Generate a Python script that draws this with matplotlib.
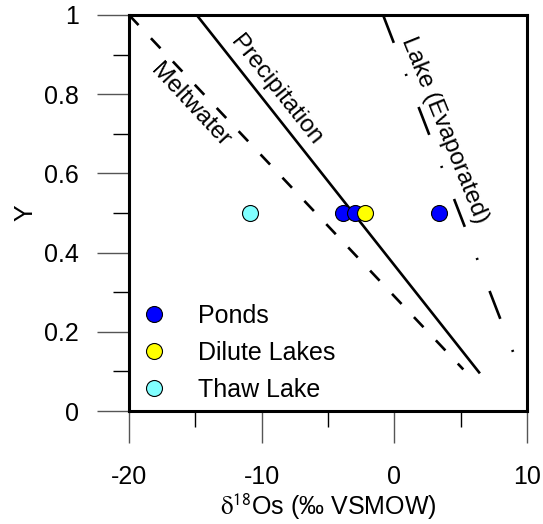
import matplotlib
matplotlib.use('Agg')
import matplotlib.pyplot as plt
from matplotlib.ticker import MultipleLocator

plt.rcParams['font.family'] = ['Liberation Sans', 'DejaVu Sans']
plt.rcParams['mathtext.fontset'] = 'stix'
plt.rcParams['lines.scale_dashes'] = False

# data
pond_x = [-3.9, -3.0, 3.4]
pond_y = [0.5, 0.5, 0.5]
dilute_x = [-2.2]
dilute_y = [0.5]
thaw_x = [-10.9]
thaw_y = [0.5]

# reference lines (endpoints)
precip_x = [-14.9, 6.45]
precip_y = [1.0, 0.095]
melt_x = [-20.0, 5.2]
melt_y = [1.0, 0.105]
lake_x = [-0.85, 9.0]
lake_y = [1.0, 0.145]

fig = plt.figure(figsize=(5.43, 5.24), dpi=100)
ax = fig.add_axes([0.2376, 0.2156, 0.7329, 0.7558])

ax.plot(precip_x, precip_y, color='black', lw=1.9, solid_capstyle='butt')
ax.plot(melt_x, melt_y, color='black', lw=1.9, dashes=(10, 13), dash_capstyle='butt')
ax.plot(lake_x, lake_y, color='black', lw=1.9, dashes=(21.5, 24, 1.5, 24), dash_capstyle='butt')

ms = 11.5
ax.plot(pond_x, pond_y, 'o', ms=ms, mfc='#0000ff', mec='black', mew=0.8, label='Ponds')
ax.plot(dilute_x, dilute_y, 'o', ms=ms, mfc='#ffff00', mec='black', mew=0.8, label='Dilute Lakes')
ax.plot(thaw_x, thaw_y, 'o', ms=ms, mfc='#80ffff', mec='black', mew=0.8, label='Thaw Lake')

# line labels
ax.text(-8.95, 0.81, 'Precipitation', rotation=-51.5, fontsize=17.5,
        ha='center', va='center', rotation_mode='anchor')
ax.text(-15.4, 0.773, 'Meltwater', rotation=-47, fontsize=17.5,
        ha='center', va='center', rotation_mode='anchor')
ax.text(3.8, 0.71, 'Lake (Evaporated)', rotation=-68, fontsize=17.5,
        ha='center', va='center', rotation_mode='anchor')

ax.set_xlim(-20, 10)
ax.set_ylim(0, 1)
ax.xaxis.set_minor_locator(MultipleLocator(5))
ax.yaxis.set_minor_locator(MultipleLocator(0.1))
ax.set_yticks([0, 0.2, 0.4, 0.6, 0.8, 1.0])
ax.set_yticklabels(['0', '0.2', '0.4', '0.6', '0.8', '1'])
ax.set_xticks([-20, -10, 0, 10])
ax.set_xticklabels(['-20', '-10', '0', '10'])

ax.tick_params(which='major', direction='out', length=23, width=1, color='#555555',
               labelsize=18, pad=13)
ax.tick_params(axis='x', which='major', pad=16)
ax.tick_params(which='minor', direction='out', length=11.5, width=1, color='black')
for s in ax.spines.values():
    s.set_linewidth(2.2)

ax.set_xlabel(r'$\mathrm{\delta}$$^{\mathsf{18}}$Os (‰ VSMOW)', fontsize=18, labelpad=2)
ax.set_ylabel('Y', fontsize=18, labelpad=5)

ax.legend(loc='upper left', bbox_to_anchor=(0.031, 0.271), frameon=False, fontsize=18,
          borderpad=0, borderaxespad=0, handlelength=1.0, handletextpad=1.26,
          labelspacing=0.53, numpoints=1)

fig.savefig('out.png', dpi=100)
